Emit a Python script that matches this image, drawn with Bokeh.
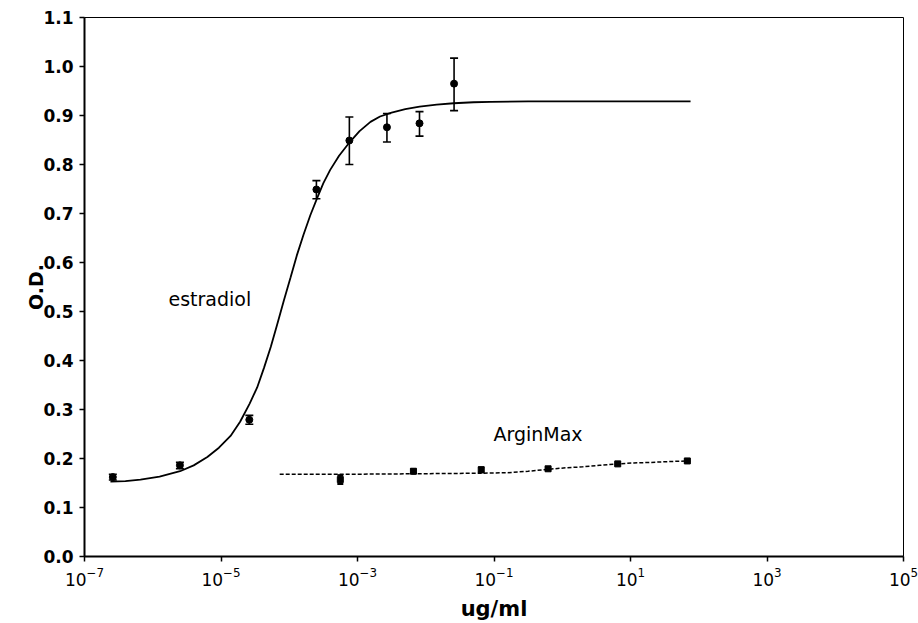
from bokeh.plotting import figure
from bokeh.models import (FixedTicker, Whisker, ColumnDataSource, Label, TeeHead,
                          PrintfTickFormatter)
from bokeh.embed import file_html
from bokeh.resources import INLINE

# ---- data ----
x_ticks = [1e-7, 1e-5, 1e-3, 1e-1, 1e1, 1e3, 1e5]
y_ticks = [0.0, 0.1, 0.2, 0.3, 0.4, 0.5, 0.6, 0.7, 0.8, 0.9, 1.0, 1.1]

estradiol_x = [2.6e-7, 2.5e-6, 2.6e-5, 2.5e-4, 7.6e-4, 2.7e-3, 8.1e-3, 2.6e-2]
estradiol_y = [0.162, 0.186, 0.279, 0.749, 0.849, 0.876, 0.884, 0.965]
estradiol_lo = [0.156, 0.179, 0.270, 0.730, 0.800, 0.846, 0.858, 0.910]
estradiol_hi = [0.168, 0.192, 0.288, 0.767, 0.897, 0.904, 0.908, 1.017]

# fitted curve (log10 of concentration, O.D.)
estradiol_fit_logx = [-6.62, -6.40, -6.18, -5.90, -5.60, -5.40, -5.20, -5.03, -4.86,
                      -4.72, -4.58, -4.47, -4.37, -4.27, -4.18, -4.08, -3.98, -3.89,
                      -3.79, -3.69, -3.59, -3.50, -3.40, -3.27, -3.13, -2.97, -2.81,
                      -2.67, -2.50, -2.30, -2.09, -1.84, -1.59, -1.30, -1.05, -0.50,
                      0.50, 1.88]
estradiol_fit_y = [0.153, 0.154, 0.157, 0.163, 0.174, 0.186, 0.203, 0.222, 0.246,
                   0.275, 0.312, 0.345, 0.385, 0.428, 0.472, 0.522, 0.570, 0.614,
                   0.657, 0.697, 0.732, 0.762, 0.789, 0.818, 0.843, 0.868, 0.887,
                   0.898, 0.906, 0.913, 0.918, 0.922, 0.925, 0.927, 0.928, 0.929,
                   0.929, 0.929]

arginmax_x = [5.6e-4, 6.6e-3, 6.5e-2, 0.62, 6.5, 68.0]
arginmax_y = [0.157, 0.174, 0.177, 0.179, 0.189, 0.195]
arginmax_lo = [0.148, 0.170, 0.172, 0.176, 0.187, 0.192]
arginmax_hi = [0.166, 0.178, 0.182, 0.182, 0.191, 0.198]

arginmax_fit_logx = [-4.14, -3.0, -2.0, -1.2, -0.8, -0.5, -0.2, 0.05, 0.3, 0.55,
                     0.8, 1.05, 1.3, 1.6, 1.88]
arginmax_fit_y = [0.168, 0.168, 0.169, 0.170, 0.171, 0.174, 0.178, 0.181, 0.183,
                  0.186, 0.189, 0.191, 0.192, 0.194, 0.195]

estradiol_fit_x = [10 ** v for v in estradiol_fit_logx]
arginmax_fit_x = [10 ** v for v in arginmax_fit_logx]

# ---- figure ----
p = figure(width=918, height=623, x_axis_type="log",
           x_range=(1e-7, 1e5), y_range=(0, 1.1),
           output_backend="svg", toolbar_location=None,
           min_border_left=84, min_border_right=15,
           min_border_top=17, min_border_bottom=67)
p.background_fill_color = "white"
p.border_fill_color = "white"
p.outline_line_color = "black"
p.outline_line_width = 1
p.xgrid.visible = False
p.ygrid.visible = False

p.xaxis.ticker = FixedTicker(ticks=x_ticks)
p.yaxis.ticker = FixedTicker(ticks=y_ticks)
p.yaxis.formatter = PrintfTickFormatter(format="%.1f")
for ax in (p.xaxis, p.yaxis):
    ax.axis_line_width = 2
    ax.axis_line_color = "black"
    ax.major_tick_line_width = 1.5
    ax.major_tick_line_color = "black"
    ax.major_tick_out = 5
    ax.major_tick_in = 0
    ax.minor_tick_line_color = None
    ax.major_label_text_color = "black"
    ax.axis_label_text_color = "black"
    ax.axis_label_text_font = "DejaVu Sans"
    ax.axis_label_text_font_style = "bold"
    ax.major_label_text_font = "DejaVu Sans"

p.xaxis.major_label_text_font_size = "17px"
p.xaxis.major_label_standoff = 5
p.xaxis.axis_label = "ug/ml"
p.xaxis.axis_label_text_font_size = "21px"
p.xaxis.axis_label_standoff = 8

p.yaxis.major_label_text_font_size = "17px"
p.yaxis.major_label_text_font_style = "bold"
p.yaxis.major_label_standoff = 6
p.yaxis.axis_label = "O.D."
p.yaxis.axis_label_text_font_size = "19px"
p.yaxis.axis_label_standoff = -7

# estradiol
p.line(estradiol_fit_x, estradiol_fit_y, line_color="black", line_width=1.8)
es = ColumnDataSource(dict(x=estradiol_x, y=estradiol_y, lo=estradiol_lo, hi=estradiol_hi))
p.add_layout(Whisker(base="x", lower="lo", upper="hi", source=es, dimension="height",
                     line_color="black", line_width=1.6,
                     upper_head=TeeHead(size=8, line_width=1.6, line_color="black"),
                     lower_head=TeeHead(size=8, line_width=1.6, line_color="black")))
p.scatter("x", "y", source=es, marker="circle", size=7, fill_color="black", line_color="black")

# ArginMax
p.line(arginmax_fit_x, arginmax_fit_y, line_color="black", line_width=1.5, line_dash="4 2")
am = ColumnDataSource(dict(x=arginmax_x, y=arginmax_y, lo=arginmax_lo, hi=arginmax_hi))
p.add_layout(Whisker(base="x", lower="lo", upper="hi", source=am, dimension="height",
                     line_color="black", line_width=2,
                     upper_head=TeeHead(size=6, line_width=2, line_color="black"),
                     lower_head=TeeHead(size=6, line_width=2, line_color="black")))
p.scatter("x", "y", source=am, marker="square", size=6, fill_color="black", line_color="black")

p.add_layout(Label(x=1.7e-6, y=0.525, text="estradiol", text_font="DejaVu Sans",
                   text_font_size="19px", text_baseline="alphabetic", text_color="black"))
p.add_layout(Label(x=0.098, y=0.251, text="ArginMax", text_font="DejaVu Sans",
                   text_font_size="19px", text_baseline="alphabetic", text_color="black"))

open("out.html", "w").write(file_html(p, INLINE))
